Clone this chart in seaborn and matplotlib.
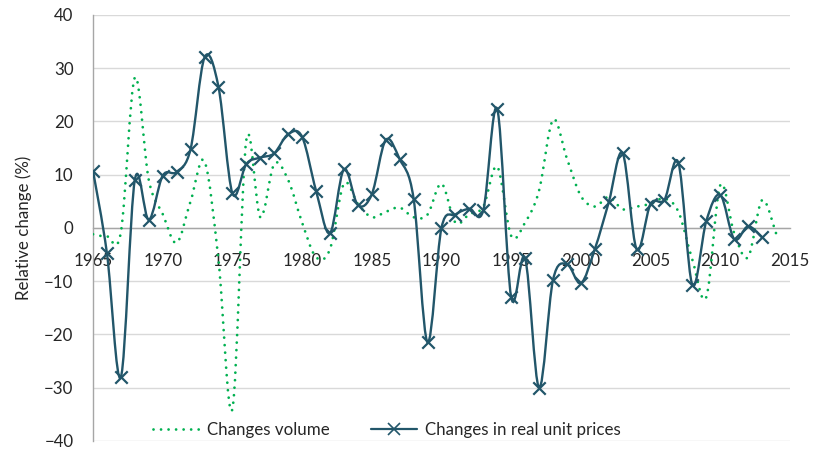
import numpy as np
import matplotlib
matplotlib.use("Agg")
import matplotlib.pyplot as plt
import seaborn as sns
from matplotlib.path import Path
from matplotlib.patches import PathPatch
from matplotlib.lines import Line2D

# Data ------------------------------------------------------------------------
years_volume = np.arange(1965, 2015)
volume_change = [
    -1.2, -1.6, -0.8, 28.2, 9.0, 2.6, -2.8, 5.0, 12.5, -6.0,
    -34.0, 16.5, 2.0, 12.0, 9.0, 1.0, -5.5, -4.0, 8.3, 4.5,
    2.0, 3.0, 3.8, 2.0, 2.5, 8.3, 1.0, 2.6, 4.0, 11.5,
    -1.5, 1.0, 7.0, 20.3, 13.0, 6.0, 4.0, 5.8, 3.5, 4.0,
    4.5, 5.5, 3.0, -6.0, -13.0, 8.0, -1.0, -5.5, 5.2, -1.0,
]

years_price = np.arange(1965, 2014)
price_change = [
    10.7, -4.8, -28.0, 9.0, 1.5, 9.8, 10.5, 14.8, 32.0, 26.5,
    6.5, 12.0, 13.2, 14.0, 17.6, 17.1, 7.0, -1.0, 11.0, 4.3,
    6.3, 16.5, 12.9, 5.5, -21.5, 0.0, 2.5, 3.6, 3.3, 22.3,
    -13.0, -5.7, -30.0, -9.8, -6.8, -10.4, -4.0, 4.8, 14.0, -4.0,
    4.5, 5.3, 12.2, -10.7, 1.3, 6.2, -2.1, 0.3, -1.8,
]

x_ticks = [1965, 1970, 1975, 1980, 1985, 1990, 1995, 2000, 2005, 2010, 2015]
y_ticks = [-40, -30, -20, -10, 0, 10, 20, 30, 40]

GREEN = "#00b050"
TEAL = "#22566a"
TEXT = "#262626"
FS = 12.2


def smooth_path(x, y):
    """Excel-style smoothed line as a cubic Bezier path through the points."""
    pts = np.column_stack([x, y]).astype(float)
    n = len(pts)
    verts, codes = [pts[0]], [Path.MOVETO]
    for i in range(n - 1):
        p0 = pts[i - 1] if i > 0 else pts[i]
        p1, p2 = pts[i], pts[i + 1]
        p3 = pts[i + 2] if i + 2 < n else pts[i + 1]
        verts += [p1 + (p2 - p0) / 6, p2 - (p3 - p1) / 6, p2]
        codes += [Path.CURVE4] * 3
    return Path(verts, codes)


sns.set_style("white")
plt.rcParams["font.family"] = ["Lato", "DejaVu Sans"]

fig = plt.figure(figsize=(8.18, 4.49), dpi=100)
ax = fig.add_axes([0.1137, 0.018, 0.852, 0.949])

ax.set_xlim(1965, 2015)
ax.set_ylim(-40, 40)

# green dotted volume line
vol = PathPatch(smooth_path(years_volume, volume_change), facecolor="none",
                edgecolor=GREEN, lw=2.0, linestyle=(0, (0.01, 2.7)), zorder=3)
vol.set_capstyle("round")
ax.add_patch(vol)

# teal price line + x markers
ax.add_patch(PathPatch(smooth_path(years_price, price_change), facecolor="none",
                       edgecolor=TEAL, lw=1.7, zorder=4))
sns.scatterplot(x=years_price, y=price_change, marker="x", s=80, color=TEAL,
                linewidth=1.6, ax=ax, zorder=5, legend=False)

# axes styling
ax.set_yticks(y_ticks)
ax.set_xticks(x_ticks)
ax.yaxis.grid(True, color="#d9d9d9", lw=1.0)
ax.set_axisbelow(True)
for s in ["top", "right"]:
    ax.spines[s].set_visible(False)
ax.spines["bottom"].set_position(("data", 0))
for s in ["left", "bottom"]:
    ax.spines[s].set_color("#a6a6a6")
    ax.spines[s].set_linewidth(1.0)
ax.tick_params(axis="y", direction="out", length=5, width=1, color="#a6a6a6",
               labelsize=FS, labelcolor=TEXT, pad=9)
ax.tick_params(axis="x", direction="out", length=5, width=1, color="#a6a6a6",
               labelsize=FS, labelcolor=TEXT, pad=13)
for lab in ax.get_xticklabels():
    lab.set_zorder(2)
ax.set_ylabel("Relative change (%)", fontsize=FS, color=TEXT, labelpad=9)

handles = [
    Line2D([], [], color=GREEN, lw=2.0, linestyle=(0, (0.01, 2.7)),
           dash_capstyle="round"),
    Line2D([], [], color=TEAL, lw=1.6, marker="x", markersize=8, mew=1.2),
]
fig.legend(handles, ["Changes volume", "Changes in real unit prices"],
           loc="center", bbox_to_anchor=(387 / 818, 1 - 430 / 449), ncol=2,
           frameon=False, fontsize=FS, handlelength=2.7, columnspacing=2.4,
           handletextpad=0.5, labelcolor=TEXT)

fig.savefig("out.png", dpi=100)
